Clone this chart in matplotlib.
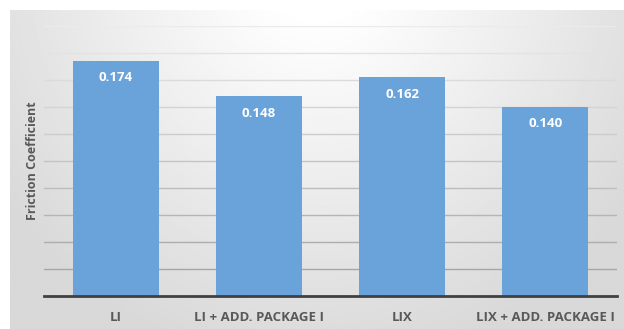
import numpy as np
import matplotlib.pyplot as plt

plt.rcParams['font.family'] = ['Open Sans', 'DejaVu Sans']

# friction test results
samples = ["LI", "LI + ADD. PACKAGE I", "LIX", "LIX + ADD. PACKAGE I"]
friction = [0.174, 0.148, 0.162, 0.140]
grid_levels = [0.02, 0.04, 0.06, 0.08, 0.10, 0.12, 0.14, 0.16, 0.18, 0.20]

bar_color = "#6aa3da"
text_color = "#595959"

fig = plt.figure(figsize=(6.24, 3.29), dpi=100)
fig.patch.set_facecolor("white")

# soft grey backdrop, lightest at the top centre
bg = fig.add_axes([10 / 624, 0, 614 / 624, 319 / 329])
yy, xx = np.mgrid[0:1:200j, 0:1:400j]
dist = np.sqrt(((xx - 0.5) / 0.55) ** 2 + ((yy + 0.15) / 1.1) ** 2)
shade = 1.0 - 0.15 * np.clip(dist - 0.15, 0, 1.0)
bg.imshow(shade, cmap="gray", vmin=0, vmax=1, aspect="auto",
          interpolation="bilinear")
bg.axis("off")

ax = fig.add_axes([44 / 624, 33 / 329, 573 / 624, 270 / 329])
ax.set_facecolor("none")

x = np.arange(len(samples))
ax.set_xlim(-0.5, len(samples) - 0.5)
ax.set_ylim(0, 0.2)

# gridlines get darker towards the bottom
for lvl in grid_levels:
    g = 0.62 + 0.30 * (lvl / 0.2)
    ax.axhline(lvl, color=(g, g, g), lw=1.0, zorder=1)

bars = ax.bar(x, friction, width=0.6, color=bar_color, zorder=2)
for b, v in zip(bars, friction):
    ax.text(b.get_x() + b.get_width() / 2, v - 0.0125, f"{v:.3f}",
            ha="center", va="center", color="white", fontsize=9.5,
            fontweight="bold", zorder=3)

for side in ["top", "right", "left"]:
    ax.spines[side].set_visible(False)
ax.spines["bottom"].set_color("#404040")
ax.spines["bottom"].set_linewidth(2)
ax.spines["bottom"].set_zorder(4)

ax.set_yticks([])
ax.set_xticks(x)
ax.set_xticklabels(samples, fontsize=9.5, fontweight="bold", color=text_color)
ax.tick_params(axis="x", length=0, pad=11)

ax.set_ylabel("Friction Coefficient", fontsize=9, fontweight="bold",
              color=text_color)
ax.yaxis.set_label_coords(-5 / 573, 0.5)

fig.savefig("out.png", dpi=100)
